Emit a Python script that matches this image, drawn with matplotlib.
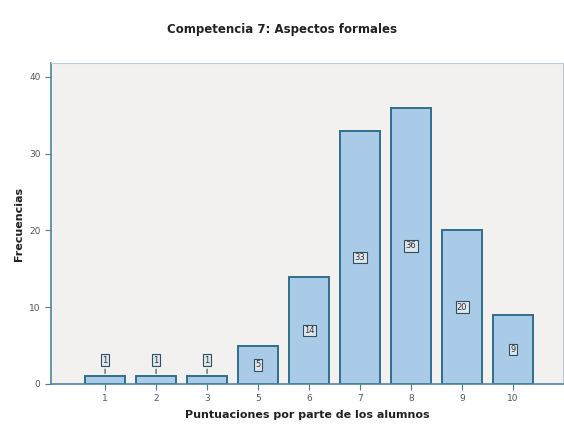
import matplotlib.pyplot as plt

# puntuaciones y frecuencias
categorias = ["1", "2", "3", "5", "6", "7", "8", "9", "10"]
frecuencias = [1, 1, 1, 5, 14, 33, 36, 20, 9]
yticks = [0, 10, 20, 30, 40]

fig = plt.figure(figsize=(5.64, 4.25), dpi=100)
ax = fig.add_axes([0.0904, 0.0965, 0.908, 0.755])
ax.set_facecolor("#f2f1f0")

x = list(range(len(categorias)))
ax.bar(x, frecuencias, width=0.77, color="#a9cbe8", edgecolor="#2f6f8c", linewidth=1.4)

# etiquetas de valor en cajas
for xi, v in zip(x, frecuencias):
    box = dict(boxstyle="square,pad=0.15", fc="#dfe7ee", ec="#2f4f5f", lw=0.8)
    if v < 3:
        ax.annotate(str(v), xy=(xi, v), xytext=(xi, 3.1), ha="center", va="center",
                    fontsize=6, color="#333333", bbox=box,
                    arrowprops=dict(arrowstyle="-", color="#2f4f5f", lw=0.8))
    else:
        ax.text(xi, v / 2, str(v), ha="center", va="center", fontsize=6,
                color="#333333", bbox=box)

ax.set_xlim(-1.06, 8.98)
ax.set_ylim(0, 41.8)
ax.set_xticks(x)
ax.set_xticklabels(categorias)
ax.set_yticks(yticks)
ax.tick_params(axis="both", labelsize=6.5, colors="#4d7d95", labelcolor="#555555", length=4)

for s in ["left", "bottom"]:
    ax.spines[s].set_color("#4d86a3")
    ax.spines[s].set_linewidth(1.2)
for s in ["top", "right"]:
    ax.spines[s].set_color("#b9cdd8")
    ax.spines[s].set_linewidth(0.8)

fig.suptitle("Competencia 7: Aspectos formales", y=0.945, fontsize=8.5,
             fontweight="bold", color="#222222")
ax.set_xlabel("Puntuaciones por parte de los alumnos", fontsize=8, fontweight="bold",
              color="#222222", labelpad=5)
ax.set_ylabel("Frecuencias", fontsize=8, fontweight="bold", color="#222222", labelpad=4)

fig.savefig("out.png", dpi=100)
